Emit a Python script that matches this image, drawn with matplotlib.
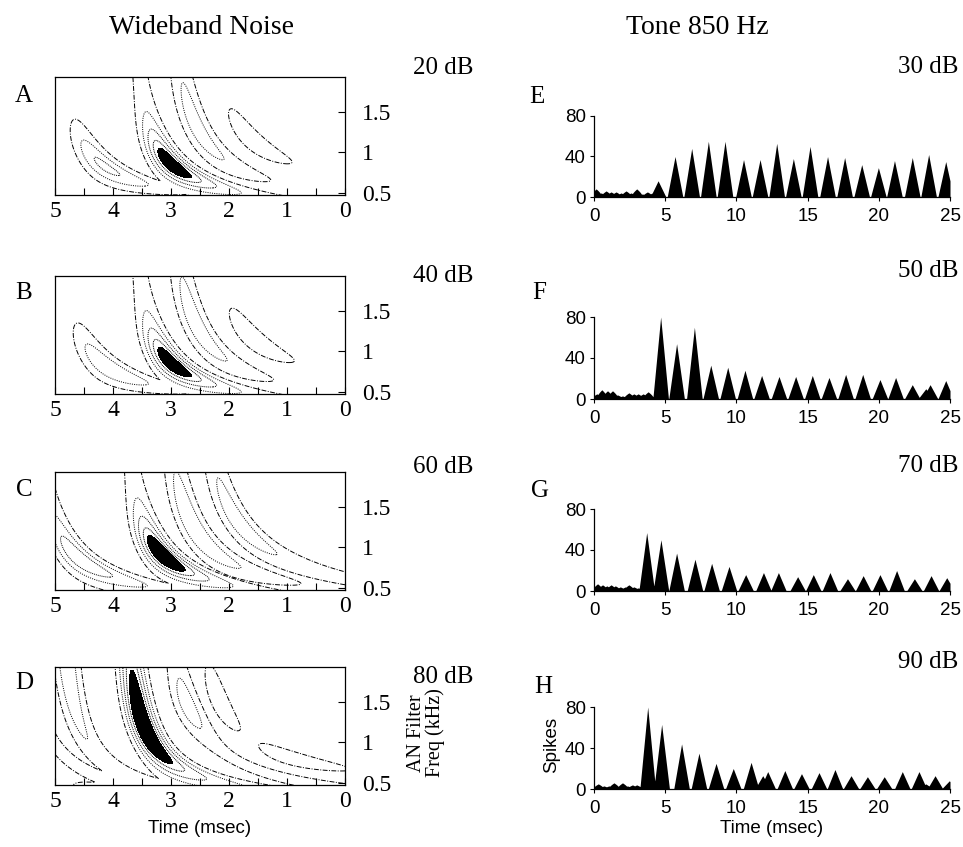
import numpy as np
import matplotlib
matplotlib.use("Agg")
import matplotlib.pyplot as plt

plt.rcParams['font.family'] = 'Liberation Serif'
SANS = 'Liberation Sans'

# ---- wideband noise: reverse-correlation ridges per level ----
# each ridge: (time at 1 kHz, bend, peak freq, peak amp, spread, floor)
ridges_20 = [(4.37, 0.70, 0.82, 0.66, 0.55, 0.00),
             (3.15, 0.60, 0.85, 0.75, 0.45, 0.30),
             (2.25, 0.90, 1.30, 0.55, 0.80, 0.00),
             (1.33, 1.32, 1.15, 0.38, 0.45, 0.00)]
ridges_40 = [(4.35, 0.70, 0.80, 0.62, 0.55, 0.00),
             (3.15, 0.60, 0.85, 0.75, 0.45, 0.30),
             (2.25, 0.90, 1.30, 0.57, 0.80, 0.00),
             (1.30, 1.35, 1.15, 0.40, 0.42, 0.00)]
ridges_60 = [(4.75, 0.70, 0.85, 0.48, 0.50, 0.28),
             (3.25, 0.65, 0.90, 0.80, 0.45, 0.30),
             (2.35, 0.90, 1.20, 0.62, 0.85, 0.00),
             (1.40, 1.30, 1.30, 0.30, 0.50, 0.27)]
ridges_80 = [(5.02, 0.64, 0.80, 0.00, 0.50, 0.30),
             (4.42, 0.58, 2.20, 0.30, 0.90, 0.30),
             (3.33, 0.56, 1.18, 0.85, 0.80, 0.30),
             (2.30, 0.95, 1.45, 0.28, 0.30, 0.28),
             (1.65, 1.10, 1.50, 0.36, 0.45, 0.00),
             (1.45, 1.50, 0.80, 0.33, 0.40, 0.00),
             (5.50, 0.60, 0.45, 0.30, 0.30, 0.00)]
noise_levels = ['20 dB', '40 dB', '60 dB', '80 dB']
noise_letters = ['A', 'B', 'C', 'D']

# ---- 850 Hz tone PSTHs: peak times (ms) and heights (spikes) ----
E_t = [4.5, 5.69, 6.86, 8.03, 9.2, 10.5, 11.66, 12.83, 14.0, 15.17, 16.4,
       17.6, 18.8, 19.97, 21.1, 22.35, 23.5, 24.7]
E_h = [16, 40, 48, 55, 55, 37, 37, 53, 38, 50, 40, 39, 32, 29, 36, 39, 42, 35]
E_nt = [0.15, 0.5, 0.85, 1.2, 1.55, 1.9, 2.25, 2.6, 3.0, 3.4, 3.75, 4.1]
E_nh = [8, 4, 6, 5, 5, 4, 6, 4, 8, 3, 5, 4]

F_t = [4.68, 5.8, 7.05, 8.2, 9.39, 10.6, 11.77, 12.99, 14.16, 15.33, 16.5,
       17.67, 18.87, 20.08, 21.18, 22.35, 23.3, 23.6, 24.7]
F_h = [80, 54, 70, 33, 31, 28, 23, 22, 22, 23, 21, 24, 24, 19, 21, 14, 10, 14, 18]
F_nt = [0.2, 0.55, 0.95, 1.3, 1.65, 2.0, 2.45, 2.8, 3.1, 3.45, 3.8]
F_nh = [5, 9, 8, 8, 4, 3, 6, 5, 5, 5, 7]

G_t = [3.7, 4.7, 5.8, 7.09, 8.26, 9.48, 10.65, 11.9, 12.95, 14.3, 15.4,
       16.57, 17.8, 18.9, 20.08, 21.25, 22.5, 23.67, 24.77]
G_h = [57, 50, 37, 31, 27, 24, 16, 18, 18, 14, 16, 18, 12, 15, 16, 20, 12, 15, 13]
G_nt = [0.25, 0.6, 0.9, 1.2, 1.5, 1.85, 2.2, 2.45, 2.8, 3.1]
G_nh = [7, 6, 5, 6, 5, 4, 4, 6, 4, 3]

H_t = [3.77, 4.75, 6.15, 7.37, 8.57, 9.78, 11.03, 11.85, 12.2, 13.4, 14.57,
       15.8, 16.92, 18.05, 19.2, 20.38, 21.65, 22.82, 23.3, 23.95, 24.95]
H_h = [80, 63, 44, 35, 25, 20, 26, 13, 17, 18, 15, 16, 19, 13, 12, 12, 17, 17,
       5, 13, 8]
H_nt = [0.3, 0.7, 1.05, 1.4, 1.75, 2.0, 2.35, 2.7, 3.0]
H_nh = [5, 3, 3, 6, 2, 6, 3, 4, 4]
tone_levels = ['30 dB', '50 dB', '70 dB', '90 dB']
tone_letters = ['E', 'F', 'G', 'H']

LEVELS = [0.25, 0.45, 0.62, 0.78]
STYLES = [(0, (5, 1.5, 1, 1.5)), (0, (1, 1.3)), (0, (1, 1)), (0, (1, 0.8))]

W, H = 963, 847


def fx(px):
    return px / W


def fy(py):
    return 1 - py / H


def ridge_field(T, Fq, ridges, w0=0.25):
    Z = np.zeros_like(T)
    for t1, b, fk, amp, sig, floor in ridges:
        c = t1 - b * (Fq ** -1.5 - 1)
        slope = 1.5 * b * Fq ** -2.5
        w = w0 * np.sqrt(1 + (0.71 * slope) ** 2)
        env = amp * np.exp(-(np.log(Fq / fk) / sig) ** 2) + floor
        Z = np.maximum(Z, env * np.exp(-((T - c) / w) ** 2))
    return Z


def psth(t, pk_t, pk_h, hw, p=1.0):
    y = np.zeros_like(t)
    for tp, h in zip(pk_t, pk_h):
        y = np.maximum(y, h * np.clip(1 - np.abs(t - tp) / hw, 0, 1) ** p)
    return y


fig = plt.figure(figsize=(9.63, 8.47), dpi=100)

fig.text(fx(201), fy(27), 'Wideband Noise', ha='center', va='center', fontsize=20)
fig.text(fx(697), fy(27), 'Tone 850 Hz', ha='center', va='center', fontsize=20)

# left column: contour maps
box_tops = [77, 276, 472, 667]
box_h = 118
db_y_left = [68, 276, 467, 677]
let_y_left = [96, 293, 490, 683]
tg = np.linspace(0, 5, 500)
fg = np.linspace(0.45, 1.95, 400)
T, Fq = np.meshgrid(tg, fg)

for i, ridges in enumerate([ridges_20, ridges_40, ridges_60, ridges_80]):
    top = box_tops[i]
    ax = fig.add_axes([fx(55), fy(top + box_h), fx(290), box_h / H])
    Z = ridge_field(T, Fq, ridges)
    ax.contourf(T, Fq, Z, levels=[0.9, 10], colors='k')
    ax.contour(T, Fq, Z, levels=LEVELS, colors='k', linewidths=0.7,
               linestyles=STYLES)
    ax.set_xlim(5, 0)
    ax.set_ylim(0.475, 1.93)
    ax.yaxis.tick_right()
    ax.set_xticks([5, 4, 3, 2, 1, 0])
    ax.set_xticklabels(['5', '4', '3', '2', '1', '0'])
    ax.set_xticks([4.5, 3.5, 2.5, 1.5, 0.5], minor=True)
    ax.set_yticks([0.5, 1, 1.5])
    ax.set_yticklabels(['0.5', '1', '1.5'])
    ax.tick_params(axis='both', which='both', direction='in', length=5,
                   width=0.8, labelsize=17)
    ax.tick_params(axis='x', pad=4)
    ax.tick_params(axis='y', pad=12)
    for s in ax.spines.values():
        s.set_linewidth(0.9)
    fig.text(fx(473), fy(db_y_left[i]), noise_levels[i], ha='right',
             va='center', fontsize=18)
    fig.text(fx(24), fy(let_y_left[i]), noise_letters[i], ha='center',
             va='center', fontsize=18)
    if i == 3:
        ax.set_xlabel('Time (msec)', fontfamily=SANS, fontsize=13.5, labelpad=6)

fig.text(fx(426), fy(733), 'AN Filter\nFreq (kHz)', rotation=90, ha='center',
         va='center', fontsize=14.5, linespacing=1.0)

# right column: PSTHs
zero_y = [197, 399, 591, 789]
top_y = [116, 317, 509, 707]
db_y_right = [67, 271, 466, 662]
let_pos = [(537, 97), (539, 293), (540, 491), (543, 687)]
tt = np.linspace(0, 25, 2501)
data = [(E_t, E_h, E_nt, E_nh), (F_t, F_h, F_nt, F_nh),
        (G_t, G_h, G_nt, G_nh), (H_t, H_h, H_nt, H_nh)]

for i, (pt, ph, nt, nh) in enumerate(data):
    ax = fig.add_axes([fx(594), fy(zero_y[i]), fx(356), (zero_y[i] - top_y[i]) / H])
    y = np.maximum(psth(tt, pt, ph, 0.55), psth(tt, nt, nh, 0.4, 0.6))
    ax.fill_between(tt, 0, y, color='k', linewidth=0)
    ax.set_xlim(0, 25)
    ax.set_ylim(0, 80)
    ax.spines['top'].set_visible(False)
    ax.spines['right'].set_visible(False)
    for s in ('left', 'bottom'):
        ax.spines[s].set_linewidth(0.9)
    ax.set_xticks([0, 5, 10, 15, 20, 25])
    ax.set_xticklabels(['0', '5', '10', '15', '20', '25'], fontfamily=SANS)
    ax.set_yticks([0, 40, 80])
    ax.set_yticklabels(['0', '40', '80'], fontfamily=SANS)
    ax.tick_params(axis='both', direction='out', length=3, width=0.8,
                   labelsize=13.5)
    ax.tick_params(axis='y', pad=3)
    ax.tick_params(axis='x', pad=5)
    fig.text(fx(958), fy(db_y_right[i]), tone_levels[i], ha='right',
             va='center', fontsize=18)
    fig.text(fx(let_pos[i][0]), fy(let_pos[i][1]), tone_letters[i],
             ha='center', va='center', fontsize=18)
    if i == 3:
        ax.set_xlabel('Time (msec)', fontfamily=SANS, fontsize=13.5, labelpad=2)

fig.text(fx(552), fy(745), 'Spikes', rotation=90, ha='center', va='center',
         fontfamily=SANS, fontsize=13.5)

fig.savefig('out.png', dpi=100)
